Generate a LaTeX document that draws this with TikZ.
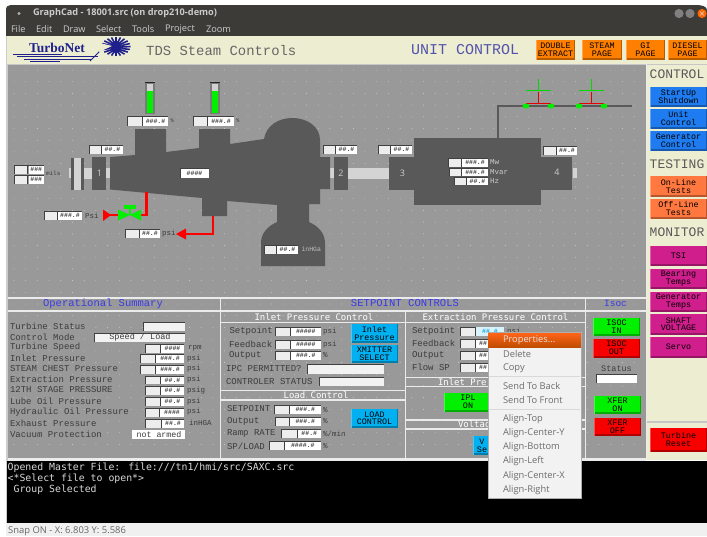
\documentclass[tikz,border=0pt]{standalone}
\usepackage{fontspec}
\setmainfont{Open Sans}
\setmonofont{Liberation Mono}
\newfontfamily\dvm{DejaVu Sans Mono}
\newfontfamily\logofont{Liberation Serif}
\usetikzlibrary{calc}
\definecolor{panelgray}{HTML}{999999}
\definecolor{machine}{HTML}{595959}
\definecolor{beige}{HTML}{EDEDD2}
\definecolor{wintop}{HTML}{3C3B37}
\definecolor{inktext}{HTML}{3C3C3C}
\definecolor{hmiblue}{HTML}{3A3AE6}
\definecolor{shaft}{HTML}{D4D4D4}
\definecolor{btnorange}{HTML}{FF8000}
\definecolor{btnsalmon}{HTML}{FF7840}
\definecolor{btnblue}{HTML}{1E7CF0}
\definecolor{btnmag}{HTML}{D01E8C}
\definecolor{btncyan}{HTML}{00B0F0}
\definecolor{btngreen}{HTML}{00F000}
\definecolor{btnred}{HTML}{F80000}
\definecolor{menutext}{HTML}{6C6C6C}
\definecolor{logoblue}{HTML}{20208C}
\tikzset{
  lbl/.style={inner sep=0,outer sep=0,anchor=west,text=inktext,font=\ttfamily\fontsize{9}{9}\selectfont},
  clbl/.style={inner sep=0,outer sep=0,align=center,font=\ttfamily\fontsize{8.4}{7.8}\selectfont},
  unit/.style={inner sep=0,outer sep=0,anchor=west,text=inktext,font=\ttfamily\fontsize{7.5}{7.5}\selectfont},
  ttl/.style={inner sep=0,outer sep=0,text=hmiblue,font=\ttfamily\fontsize{10.5}{10.5}\selectfont},
  palehead/.style={inner sep=0,outer sep=0,text=white,font=\dvm\fontsize{8.97}{8.97}\selectfont},
  hash/.style={inner sep=0,outer sep=0,text=black!75,font=\ttfamily\bfseries\fontsize{6.5}{6.5}\selectfont},
  side/.style={inner sep=0,outer sep=0,text=black!65,font=\ttfamily\fontsize{13}{13}\selectfont},
  menuitem/.style={inner sep=0,outer sep=0,anchor=west,text=menutext,font=\fontsize{9.3}{9.3}\selectfont},
  barmenu/.style={inner sep=0,outer sep=0,anchor=west,text=white!80!black,font=\fontsize{9.2}{9.2}\selectfont},
  pipe/.style={draw=red,line width=2.6pt},
  gridrule/.style={draw=white!92!black,line width=1.3pt},
}
\newcommand{\Btn}[6]{%
  \fill[#5] (#1,#2) rectangle (#3,#4);
  \fill[#5!72!black] (#1,#4-1.6) rectangle (#3,#4);
  \fill[#5!72!black] (#3-1.4,#2) rectangle (#3,#4);
  \fill[#5!70!white] (#1,#2) rectangle (#1+1.2,#4);
  \node[clbl,text=black] at ({(#1+#3)/2},{(#2+#4)/2-.3}) {#6};}
\newcommand{\RO}[6]{%
  \fill[white!93!black] (#1,#4) rectangle (#2,#5);
  \fill[white] (#2+1,#4) rectangle (#3,#5);
  \draw[black!75,line width=.8pt] (#1,#5) -- (#1,#4) -- (#3,#4);
  \draw[black!75,line width=.7pt] (#2,#4) -- (#2,#5);
  \node[hash] at ({(#2+#3)/2+.5},{(#4+#5)/2}) {#6};}
\newcommand{\Gauge}[3]{%
  \fill[white!48!black] (#1,82) rectangle (#1+9.5,113.5);
  \draw[black!85,line width=.8pt] (#1,82) -- (#1+9.5,82);
  \fill[white!82!black] (#1+1.5,84) rectangle (#1+8,#2);
  \fill[btngreen] (#1+1.5,#2) rectangle (#1+8,#3);}
\newcommand{\Breaker}[1]{%
  \draw[green!85!black,line width=.9pt] (#1-12.5,90) -- (#1+12.5,90);
  \draw[green!85!black,line width=.9pt] (#1,79) -- (#1,90);
  \draw[red!90!black,line width=.9pt] (#1-12.5,103) -- (#1+12.5,103);
  \draw[red!90!black,line width=.9pt] (#1,92) -- (#1,103);
  \fill[btngreen] (#1-12.5,106) ellipse (3.4 and 2.5);
  \fill[btngreen] (#1+12.5,106) ellipse (3.4 and 2.5);}
\begin{document}
\begin{tikzpicture}[x=1pt,y=-1pt]
\useasboundingbox (0,0) rectangle (707,536);
\fill[white] (0,0) rectangle (707,536);
% ---- window chrome
\fill[wintop] (6,36.5) -- (6,10) .. controls (6,6.5) and (8,5) .. (11,5) -- (696,5) .. controls (702,5) and (707,6.5) .. (707,10) -- (707,36.5) -- cycle;
\fill[white!70!black] (19,13.5) circle (1.7);
\node[barmenu,font=\bfseries\fontsize{9.2}{9.2}\selectfont] at (33,13.5) {GraphCad - 18001.src (on drop210-demo)};
\node[barmenu] at (11,29.5) {File};
\node[barmenu] at (36,29.5) {Edit};
\node[barmenu] at (63,29.5) {Draw};
\node[barmenu] at (96,29.5) {Select};
\node[barmenu] at (132,29.5) {Tools};
\node[barmenu] at (165,29.5) {Project};
\node[barmenu] at (206,29.5) {Zoom};
\fill[white!50!black] (679,13.5) circle (4.6);
\fill[white!50!black] (690,13.5) circle (4.6);
\fill[orange!80!red] (702,13.5) circle (4.6);
\draw[white!85!black,line width=.6pt] (700,11.5) -- (704,15.5) (700,15.5) -- (704,11.5);
% ---- backgrounds
\fill[white!80!black] (6,36) rectangle (7.5,523);
\fill[beige] (7,36) rectangle (707,64);
\fill[beige] (646,64) rectangle (707,460);
\fill[white!78!black] (7,63.5) rectangle (707,64.7);
\fill[white!78!black] (646,420.5) rectangle (707,422.5);
\fill[white!92!black] (646,64) rectangle (647,460);
\fill[panelgray] (7.5,64.5) rectangle (646,458);
\foreach \gx in {14,25.7,...,640} \foreach \gy in {70,81.7,...,455}
  \fill[white!82!black] (\gx,\gy) circle (.45);
% ---- header
\fill[logoblue] (13,53.5) rectangle (62,54.3);
\fill[logoblue] (17,56) rectangle (98,56.7);
\fill[logoblue] (24,58.5) rectangle (92,59.2);
\fill[logoblue] (30,60.5) rectangle (60,61.1);
\node[inner sep=0,anchor=west,text=logoblue,font=\logofont\bfseries\fontsize{13.5}{13.5}\selectfont] at (29,48) {TurboNet};
\draw[logoblue,line width=1pt] (90,61) -- (99,52) -- (103,46);
\foreach \ang in {0,18,...,342}
  \draw[logoblue,line width=1.6pt] ({116+6*cos(\ang)},{47+5*sin(\ang)}) -- ({116+14.5*cos(\ang)},{46.5+9.5*sin(\ang)});
\fill[logoblue] (116,47) circle (6);
\fill[beige] (100,43) -- (112,46) -- (99,52) -- cycle;
\node[inner sep=0,anchor=west,text=black!60,font=\ttfamily\fontsize{13.9}{13.9}\selectfont] at (146,50.5) {TDS Steam Controls};
\node[inner sep=0,anchor=west,text=blue!35!gray,font=\ttfamily\fontsize{15}{15}\selectfont] at (411,49.5) {UNIT CONTROL};
\Btn{536}{39.5}{575}{60}{btnorange}{DOUBLE\\EXTRACT}
\Btn{582}{39.5}{622}{60}{btnorange}{STEAM\\PAGE}
\Btn{626}{39.5}{665}{60}{btnorange}{GI\\PAGE}
\Btn{668}{39.5}{707}{60}{btnorange}{DIESEL\\PAGE}
% ---- machine train
\fill[shaft] (69,168) rectangle (71,178);
\fill[shaft] (84,167.5) rectangle (92,179);
\fill[shaft] (106,168) rectangle (110,178);
\fill[shaft] (330,168) rectangle (334,178);
\fill[shaft] (348,167.5) rectangle (389,178.5);
\fill[shaft] (573,168) rectangle (577,178);
\fill[machine] (71,157.5) rectangle (84,190);
\fill[shaft] (74,157.5) rectangle (81,190);
\fill[machine] (92,157) rectangle (106,189.5);
\fill[machine] (334,157) rectangle (348,189.5);
\fill[machine] (110,157) -- (135,155) -- (135,129) -- (166,129) -- (166,152) -- (199,148) -- (199,129) -- (230,129) -- (230,144) -- (264,139)
  .. controls (266,126) and (278,118) .. (292,118) .. controls (308,118) and (320,127) .. (320,140)
  -- (320,157) -- (330,157) -- (330,189) -- (320,189) -- (320,204) -- (309,204) -- (309,222)
  .. controls (318,226) and (325,233) .. (325,243) -- (325,266) -- (261,266) -- (261,243) .. controls (261,233) and (268,226) .. (277,222)
  -- (277,205) -- (227,201) -- (227,216) -- (202,216) -- (202,198) -- (110,189.5) -- cycle;
\fill[machine] (389,157) rectangle (414,189.5);
\fill[machine] (414,138) rectangle (541,204.5);
\fill[machine] (541,157) rectangle (572,189.5);
\node[inner sep=0,text=white!80!black,font=\fontsize{9}{9}\selectfont] at (99.5,173) {1};
\node[inner sep=0,text=white!80!black,font=\fontsize{9}{9}\selectfont] at (341,173.5) {2};
\node[inner sep=0,text=white!80!black,font=\fontsize{9}{9}\selectfont] at (402.5,173) {3};
\node[inner sep=0,text=white!80!black,font=\fontsize{9}{9}\selectfont] at (557,172) {4};
% electrical one-line
\draw[machine,line width=1.3pt] (498,138) -- (498,106) -- (632,106);
\Breaker{538.5}
\Breaker{591.5}
% gauges
\Gauge{145}{91}{112.5}
\Gauge{210}{91}{112.5}
\RO{127}{142}{168}{116.5}{125.5}{\#\#\#.\#}
\node[unit,font=\ttfamily\fontsize{5.5}{5.5}\selectfont] at (170.5,121) {\%};
\RO{193}{207}{234}{116.5}{125.5}{\#\#\#.\#}
\node[unit,font=\ttfamily\fontsize{5.5}{5.5}\selectfont] at (236,121) {\%};
\RO{89}{101}{123}{145}{154}{\#\#.\#}
\RO{323}{335}{357}{145}{154}{\#\#.\#}
\RO{378}{390}{412}{145}{154}{\#\#.\#}
\RO{543}{556}{577}{146.5}{155}{\#\#.\#}
\RO{14}{27.5}{44}{165}{174}{\#\#\#}
\RO{14}{27.5}{44}{175}{183.5}{\#\#\#}
\node[unit,font=\ttfamily\fontsize{6}{6}\selectfont] at (46,173.5) {mils};
\fill[white] (180,168) rectangle (208.5,178);
\draw[black!75,line width=.8pt] (180,178) -- (180,168) -- (208.5,168);
\node[hash] at (194.5,173) {\#\#\#\#};
\RO{44}{57}{82}{211}{220}{\#\#\#.\#}
\node[unit] at (85,215.5) {Psi};
\RO{125}{139}{160}{229.5}{238}{\#\#.\#}
\node[unit] at (162,234) {psi};
\RO{264}{276}{298}{245}{253.5}{\#\#.\#}
\node[unit,text=white!75!black,font=\ttfamily\fontsize{6.5}{6.5}\selectfont] at (301.5,249.5) {inHGa};
\RO{448}{461}{488}{158}{166.5}{\#\#\#.\#}
\node[unit,text=white!80!black] at (490,162) {Mw};
\RO{449}{461}{488}{168}{176}{\#\#\#.\#}
\node[unit,text=white!80!black] at (490,172) {Mvar};
\RO{454}{466}{488}{177}{185}{\#\#.\#}
\node[unit,text=white!80!black] at (490,181) {Hz};
% steam pipes and valve
\draw[pipe] (146.3,192) -- (146.3,215) -- (140,215);
\draw[pipe] (108,215) -- (119,215);
\fill[red] (103,209.5) -- (103,221) -- (111,215) -- cycle;
\fill[btngreen] (118,209.5) -- (118,220.5) -- (130,215) -- cycle;
\fill[btngreen] (141,209.5) -- (141,220.5) -- (130,215) -- cycle;
\fill[btngreen] (124,205) rectangle (135.5,209);
\draw[btngreen,line width=1.8pt] (130,207) -- (130,215);
\draw[pipe] (213,216) -- (213,234) -- (183,234);
\fill[red] (176,234) -- (186,228.5) -- (186,239.5) -- cycle;
% ---- panel rules
\fill[white!92!black] (7.5,296.5) rectangle (646,298.5);
\fill[white!92!black] (7.5,310) rectangle (646,311.5);
\fill[white!92!black] (7.5,458) rectangle (646,461);
\draw[gridrule] (220.5,297) -- (220.5,458);
\draw[gridrule] (405.5,311) -- (405.5,458);
\draw[gridrule] (585.5,297) -- (585.5,458);
\draw[gridrule] (220.5,322.5) -- (585.5,322.5);
\draw[gridrule] (220.5,390.5) -- (405.5,390.5);
\draw[gridrule] (220.5,400) -- (405.5,400);
\draw[gridrule] (405.5,377.5) -- (585.5,377.5);
\draw[gridrule] (405.5,386.5) -- (585.5,386.5);
\draw[gridrule] (405.5,420) -- (585.5,420);
\draw[gridrule] (405.5,429) -- (585.5,429);
% ---- operational summary
\node[ttl] at (103,303.5) {Operational Summary};
\node[lbl] at (10,326) {Turbine Status};
\node[lbl] at (10,337) {Control Mode};
\node[lbl] at (10,347.5) {Turbine Speed};
\node[lbl] at (10,358.5) {Inlet Pressure};
\node[lbl] at (10,369) {STEAM CHEST Pressure};
\node[lbl] at (10,379.5) {Extraction Pressure};
\node[lbl] at (10,390) {12TH STAGE PRESSURE};
\node[lbl] at (10,401.5) {Lube Oil Pressure};
\node[lbl] at (10,412) {Hydraulic Oil Pressure};
\node[lbl] at (10,423) {Exhaust Pressure};
\node[lbl] at (10,434) {Vacuum Protection};
\fill[white!95!black] (143,322) rectangle (185,331);
\draw[black!75,line width=.8pt] (143,331) -- (143,322) -- (185,322);
\fill[white!95!black] (94,333) rectangle (185,342);
\draw[black!75,line width=.8pt] (94,342) -- (94,333) -- (185,333);
\node[clbl,text=inktext,font=\ttfamily\fontsize{8.5}{8.5}\selectfont] at (140,337.5) {Speed / Load};
\RO{145}{160}{184}{344}{352.5}{\#\#\#\#}
\node[unit] at (188,348) {rpm};
\RO{140}{155}{184}{354}{363}{\#\#\#.\#}
\node[unit] at (187,358.5) {psi};
\RO{140}{155}{184}{365}{374}{\#\#\#.\#}
\node[unit] at (187,369) {psi};
\RO{145}{160}{184}{376}{384}{\#\#.\#}
\node[unit] at (187,379.5) {psi};
\RO{145}{160}{184}{386}{395}{\#\#.\#}
\node[unit] at (187,391) {psig};
\RO{145}{160}{184}{397}{406}{\#\#.\#}
\node[unit] at (187,401.5) {psi};
\RO{145}{159}{184}{408}{417}{\#\#\#\#}
\node[unit] at (187,412) {psi};
\RO{145}{161}{184}{419}{428}{\#\#.\#}
\node[unit] at (189,423) {inHGA};
\fill[white] (132,430) rectangle (185,438.5);
\node[clbl,text=inktext,font=\ttfamily\fontsize{8.3}{8.3}\selectfont] at (159,434.3) {not armed};
% ---- setpoint controls
\node[ttl,font=\ttfamily\fontsize{10.6}{10.6}\selectfont] at (405,303.5) {SETPOINT CONTROLS};
\node[palehead] at (314,317) {Inlet Pressure Control};
\node[lbl] at (229.5,331) {Setpoint};
\node[lbl] at (229,344) {Feedback};
\node[lbl] at (229,355.5) {Output};
\node[lbl] at (226,368.5) {IPC PERMITTED?};
\node[lbl] at (226,381.5) {CONTROLER STATUS};
\RO{275}{290}{320.5}{327}{336}{\#\#\#\#\#}
\node[unit] at (323,331.5) {psi};
\RO{275}{290}{320.5}{340}{349}{\#\#\#\#\#}
\node[unit] at (323,344.5) {psi};
\RO{275}{290}{320.5}{351}{360}{\#\#\#.\#}
\node[unit] at (323,355.5) {\%};
\fill[white!95!black] (307,364.5) rectangle (384,374);
\draw[black!75,line width=.8pt] (307,374) -- (307,364.5) -- (384,364.5);
\fill[white!95!black] (319,377) rectangle (384,386);
\draw[black!75,line width=.8pt] (319,386) -- (319,377) -- (384,377);
\Btn{351}{324}{398}{343}{btncyan}{Inlet\\Pressure}
\Btn{351}{345}{398}{363}{btncyan}{XMITTER\\SELECT}
\node[palehead] at (316,395.5) {Load Control};
\node[lbl] at (227,409) {SETPOINT};
\node[lbl] at (227,421.5) {Output};
\node[lbl] at (227,433.5) {Ramp RATE};
\node[lbl] at (227,446) {SP/LOAD};
\RO{274}{289}{320.5}{405}{414}{\#\#\#.\#}
\node[unit] at (323,410) {\%};
\RO{275}{289}{320.5}{417}{426}{\#\#\#.\#}
\node[unit] at (323,421.5) {\%};
\RO{281}{297}{320.5}{429}{438}{\#\#.\#}
\node[unit] at (323,433.5) {\%/min};
\RO{269}{284}{320.5}{441}{450}{\#\#\#\#.\#}
\node[unit] at (323,446) {\%};
\Btn{351}{409}{398}{428}{btncyan}{LOAD\\CONTROL}
% extraction column (menu covers its right side)
\node[palehead] at (495.5,317) {Extraction Pressure Control};
\node[lbl] at (412,331) {Setpoint};
\node[lbl] at (412,343.5) {Feedback};
\node[lbl] at (412,355.5) {Output};
\node[lbl] at (412,367.5) {Flow SP};
\RO{460}{475}{488}{327}{336}{}
\fill[cyan!15!white] (476,327) rectangle (504,336);
\node[hash,text=cyan!90!black] at (490,331.5) {\#\#.\#};
\node[unit] at (507,331.5) {psi};
\RO{460}{475}{490}{339}{348}{\#\#}
\RO{460}{475}{490}{351}{360}{\#\#}
\RO{460}{475}{490}{363}{372}{\#\#}
\node[palehead,anchor=west] at (438,382) {Inlet Pre};
\Btn{444}{393}{500}{411.5}{btngreen}{\phantom{X}}
\node[clbl,text=black] at (468,402) {IPL\\ON};
\node[palehead,anchor=west] at (458,425) {Voltag};
\Btn{473}{436}{500}{455}{btncyan}{\phantom{V}}
\node[clbl,text=black] at (482,445.5) {V\\Se};
% ---- Isoc
\node[ttl,font=\ttfamily\fontsize{9.5}{9.5}\selectfont] at (615.5,303.5) {Isoc};
\Btn{593}{318}{640}{336}{btngreen}{ISOC\\IN}
\Btn{593}{339}{640}{357.5}{btnred}{ISOC\\OUT}
\node[clbl,text=inktext,font=\ttfamily\fontsize{8.5}{8.5}\selectfont] at (616.5,369) {Status};
\fill[white] (596.5,374) rectangle (637,383);
\draw[black!75,line width=.8pt] (596.5,383) -- (596.5,374) -- (637,374);
\Btn{594}{396}{641}{414}{btngreen}{XFER\\ON}
\Btn{594}{418}{641}{436}{btnred}{XFER\\OFF}
% ---- side panel
\node[side] at (677,74.5) {CONTROL};
\Btn{650}{87}{707}{107}{btnblue}{StartUp\\Shutdown}
\Btn{650}{109}{707}{129}{btnblue}{Unit\\Control}
\Btn{650}{131}{707}{151}{btnblue}{Generator\\Control}
\node[side] at (677,164) {TESTING};
\Btn{650}{176}{707}{197}{btnsalmon}{On-Line\\Tests}
\Btn{650}{199}{707}{219}{btnsalmon}{Off-Line\\Tests}
\node[side] at (677,232) {MONITOR};
\Btn{650}{246}{707}{266}{btnmag}{TSI}
\Btn{650}{269}{707}{289}{btnmag}{Bearing\\Temps}
\Btn{650}{292}{707}{312}{btnmag}{Generator\\Temps}
\Btn{650}{314}{707}{335}{btnmag}{SHAFT\\VOLTAGE}
\Btn{650}{337}{707}{358}{btnmag}{Servo}
\Btn{650}{428}{707}{452}{btnred}{Turbine\\Reset}
% ---- console
\fill[black] (7,461) rectangle (707,523);
\node[inner sep=0,anchor=west,text=white!85!black,font=\dvm\fontsize{9.85}{9.85}\selectfont] at (7.5,468) {Opened Master File: file:///tn1/hmi/src/SAXC.src};
\node[inner sep=0,anchor=west,text=white!85!black,font=\dvm\fontsize{9.85}{9.85}\selectfont] at (7.5,479) {<*Select file to open*>};
\node[inner sep=0,anchor=west,text=white!85!black,font=\dvm\fontsize{9.85}{9.85}\selectfont] at (13.4,490) {Group Selected};
\fill[white!94!black] (6,523) rectangle (707,536);
\node[inner sep=0,anchor=west,text=black!60,font=\fontsize{9.4}{9.4}\selectfont] at (8,531) {Snap ON - X: 6.803 Y: 5.586};
% ---- context menu
\fill[white!95!black] (488,332) rectangle (581,498);
\draw[white!68!black,line width=.7pt] (488,332) rectangle (581,498);
\shade[top color=orange!65!red!90!white,bottom color=orange!80!red!75!black] (488,333) rectangle (581,347);
\node[menuitem,text=white!90!black] at (503,340) {Properties...};
\node[menuitem] at (503,354) {Delete};
\node[menuitem] at (503,368.5) {Copy};
\draw[white!85!black,line width=.6pt] (489,376.5) -- (580,376.5);
\node[menuitem] at (503,386.5) {Send To Back};
\node[menuitem] at (503,400.5) {Send To Front};
\draw[white!85!black,line width=.6pt] (489,409.5) -- (580,409.5);
\node[menuitem] at (503,419.5) {Align-Top};
\node[menuitem] at (503,433.5) {Align-Center-Y};
\node[menuitem] at (503,447.5) {Align-Bottom};
\node[menuitem] at (503,461.5) {Align-Left};
\node[menuitem] at (503,476) {Align-Center-X};
\node[menuitem] at (503,490) {Align-Right};
\end{tikzpicture}
\end{document}
